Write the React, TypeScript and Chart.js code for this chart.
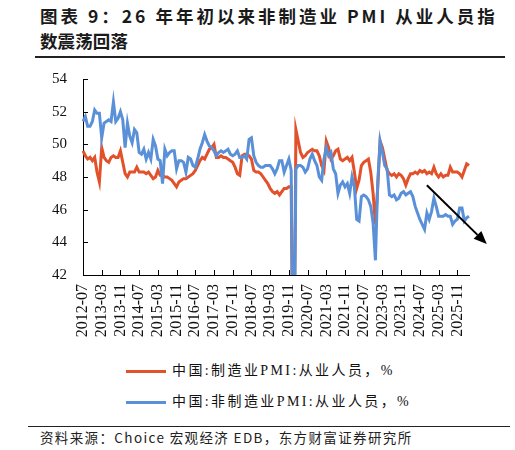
import React, { useEffect, useRef } from "react";
import { Chart, registerables } from "chart.js";

Chart.register(...registerables);

// ---- categories (monthly, 2012-07 .. 2026-04) ----
const firstYear = 2012;
const firstMonth = 7;
const monthCount = 166;
const months: string[] = [];
for (let k = 0; k < monthCount; k++) {
  const m0 = firstMonth - 1 + k;
  const y = firstYear + Math.floor(m0 / 12);
  const m = (m0 % 12) + 1;
  months.push(`${y}-${m < 10 ? "0" + m : m}`);
}
const tickEvery = 8;

// ---- y axis ----
const yMin = 42;
const yMax = 54;
const yStep = 2;

// ---- series ----
const seriesNames = ["中国:制造业PMI:从业人员，%", "中国:非制造业PMI:从业人员，%"];

const mfgEmployment = [
  49.6, 49.3, 49.1, 49.2, 49.0, 49.2, 48.3, 47.7, 49.8, 49.2,
  49.0, 48.9, 49.2, 49.3, 49.2, 49.2, 49.6, 48.9, 48.2, 48.0,
  48.3, 48.3, 48.3, 48.6, 48.3, 48.3, 48.3, 48.2, 48.3, 48.1,
  47.9, 48.0, 48.4, 48.1, 48.1, 48.0, 48.0, 47.9, 47.8, 47.6,
  47.4, 47.7, 47.8, 47.9, 47.9, 48.0, 48.1, 48.2, 48.4, 48.7,
  49.0, 49.2, 49.1, 49.4, 49.7, 49.8, 50.0, 49.2, 49.2, 49.3,
  49.2, 49.2, 49.1, 49.0, 48.9, 48.6, 48.2, 48.1, 49.3, 49.4,
  49.4, 49.3, 49.1, 48.4, 48.3, 48.3, 48.2, 48.0, 47.8, 47.6,
  47.3, 47.1, 47.0, 47.1, 46.9, 47.1, 47.3, 47.3, 47.4, 47.4,
  31.8, 50.9, 50.2, 49.5, 49.2, 49.3, 49.5, 49.6, 49.7, 49.6,
  49.6, 49.3, 48.7, 48.4, 50.2, 49.8, 49.1, 49.3, 49.6, 49.7,
  49.1, 49.0, 49.1, 49.2, 49.0, 49.2, 48.3, 47.3, 47.8, 48.7,
  48.9, 49.0, 49.1, 48.3, 47.0, 45.1, 47.4, 50.2, 49.8, 49.1,
  48.4, 48.2, 48.1, 48.2, 48.0, 48.2, 48.1, 47.9, 47.5, 47.9,
  48.2, 48.2, 48.3, 48.2, 48.4, 48.3, 48.4, 48.2, 48.3, 48.2,
  48.6, 48.2, 48.0, 48.2, 48.0, 48.1, 48.1, 48.6, 48.3, 48.3,
  48.3, 48.2, 48.0, 48.4, 48.8, 48.7,
];

const nonMfgEmployment = [
  51.4, 51.7, 51.1, 51.1, 51.4, 52.1, 51.9, 51.9, 50.4, 51.3,
  51.4, 51.5, 51.4, 52.6, 51.4, 51.6, 52.0, 51.5, 49.8, 51.3,
  50.5, 50.1, 50.9, 50.7, 49.5, 49.4, 49.7, 49.1, 49.5, 49.1,
  50.3, 49.9, 49.1, 49.0, 47.6, 49.7, 49.3, 49.5, 49.6, 49.6,
  48.5, 49.0, 49.0, 48.9, 48.3, 49.2, 49.1, 48.7, 48.6, 49.1,
  49.7, 50.1, 50.6, 50.2, 49.9, 49.8, 49.6, 49.3, 49.5, 49.6,
  49.5, 49.6, 49.7, 49.4, 49.3, 49.4, 49.6, 49.2, 49.2, 49.3,
  49.1, 50.3, 50.4, 49.3, 48.9, 48.7, 48.6, 48.6, 48.7, 48.7,
  48.7, 48.5, 48.2, 48.5, 49.0, 49.0, 48.3, 48.7, 49.1, 48.4,
  32.1, 48.5, 48.7, 48.7, 48.6, 48.3, 48.5, 49.1, 49.4, 49.0,
  48.7, 48.0, 47.8, 49.1, 49.8, 49.3, 49.5, 48.5, 48.2, 47.0,
  47.5, 47.7, 47.4, 47.6, 47.0, 48.0, 47.4, 45.4, 45.3, 46.8,
  46.9, 46.8, 46.6, 46.2, 45.2, 42.9, 47.7, 50.2, 49.5, 48.7,
  48.5, 46.9, 46.8, 46.9, 46.6, 46.7, 47.0, 47.1, 46.9, 47.0,
  47.1, 46.8, 46.2, 45.8, 45.4, 45.1, 44.8, 45.8, 45.4, 45.9,
  46.7, 46.2, 45.6, 45.6, 45.6, 45.7, 45.6, 45.6, 45.1, 45.3,
  45.4, 46.1, 46.1, 45.3, 45.5, 45.6,
];

// trend arrow annotation in data space: [month index, value]
const arrowFrom = [147, 47.5];
const arrowTo = [172.6, 43.9];

const ORANGE = "#E2512A";
const BLUE = "#5A90D8";

const innerTicks = {
  id: "innerTicks",
  afterDraw(chart: any) {
    const { ctx, chartArea } = chart;
    const xs = chart.scales.x;
    const ys = chart.scales.y;
    ctx.save();
    ctx.strokeStyle = "#000";
    ctx.lineWidth = 1;
    ctx.beginPath();
    for (let i = 0; i < months.length; i += tickEvery) {
      const x = Math.round(xs.getPixelForValue(i)) + 0.5;
      ctx.moveTo(x, chartArea.bottom);
      ctx.lineTo(x, chartArea.bottom - 5);
    }
    for (let v = yMin; v <= yMax; v += yStep) {
      const y = Math.round(ys.getPixelForValue(v)) + 0.5;
      ctx.moveTo(chartArea.left, y);
      ctx.lineTo(chartArea.left + 5, y);
    }
    ctx.stroke();
    ctx.restore();
  },
};

const trendArrow = {
  id: "trendArrow",
  afterDraw(chart: any) {
    const { ctx } = chart;
    const xs = chart.scales.x;
    const ys = chart.scales.y;
    const x0 = xs.getPixelForValue(arrowFrom[0]);
    const y0 = ys.getPixelForValue(arrowFrom[1]);
    const x1 = xs.getPixelForValue(arrowTo[0]);
    const y1 = ys.getPixelForValue(arrowTo[1]);
    const ang = Math.atan2(y1 - y0, x1 - x0);
    const headLen = 13;
    const headHalf = 5.5;
    const bx = x1 - headLen * Math.cos(ang);
    const by = y1 - headLen * Math.sin(ang);
    ctx.save();
    ctx.strokeStyle = "#000";
    ctx.fillStyle = "#000";
    ctx.lineWidth = 2;
    ctx.beginPath();
    ctx.moveTo(x0, y0);
    ctx.lineTo(bx, by);
    ctx.stroke();
    ctx.beginPath();
    ctx.moveTo(x1, y1);
    ctx.lineTo(bx + headHalf * Math.sin(ang), by - headHalf * Math.cos(ang));
    ctx.lineTo(bx - headHalf * Math.sin(ang), by + headHalf * Math.cos(ang));
    ctx.closePath();
    ctx.fill();
    ctx.restore();
  },
};

export default function App() {
  const canvasRef = useRef<HTMLCanvasElement | null>(null);

  useEffect(() => {
    if (!canvasRef.current) return;
    const chart = new Chart(canvasRef.current, {
      type: "line",
      data: {
        labels: months,
        datasets: [
          {
            label: seriesNames[0],
            data: mfgEmployment,
            borderColor: ORANGE,
            backgroundColor: ORANGE,
            borderWidth: 3,
            pointRadius: 0,
            tension: 0,
            order: 2,
          },
          {
            label: seriesNames[1],
            data: nonMfgEmployment,
            borderColor: BLUE,
            backgroundColor: BLUE,
            borderWidth: 3,
            pointRadius: 0,
            tension: 0,
            order: 1,
          },
        ],
      },
      options: {
        animation: false,
        responsive: false,
        devicePixelRatio: 1,
        layout: { padding: { left: 0, top: 79, right: 46, bottom: 0 } },
        plugins: {
          legend: { display: false },
          title: { display: false },
          tooltip: { enabled: false },
        },
        scales: {
          x: {
            type: "category",
            offset: false,
            grid: { display: false, drawTicks: false },
            border: { display: true, color: "#000", width: 1 },
            ticks: {
              autoSkip: false,
              maxRotation: 90,
              minRotation: 90,
              padding: 9,
              color: "#111",
              font: { family: "'Liberation Serif', 'Times New Roman', serif", size: 16 },
              callback: (_v: any, i: number) => (i % tickEvery === 0 ? months[i] : null),
            },
            afterFit: (s: any) => {
              s.height = 75;
            },
          },
          y: {
            min: yMin,
            max: yMax,
            grid: { display: false, drawTicks: false },
            border: { display: true, color: "#000", width: 1 },
            ticks: {
              stepSize: yStep,
              padding: 16,
              color: "#111",
              font: { family: "'Liberation Serif', 'Times New Roman', serif", size: 15 },
            },
            afterFit: (s: any) => {
              s.width = 83;
            },
          },
        },
      },
      plugins: [innerTicks, trendArrow],
    });
    return () => chart.destroy();
  }, []);

  const legendText: React.CSSProperties = {
    fontFamily: "'Liberation Serif', 'Noto Sans CJK SC', serif",
    fontSize: 14,
    letterSpacing: "2.4px",
    color: "#111",
    whiteSpace: "nowrap",
    lineHeight: "18px",
  };

  const legendRow = (top: number, color: string, text: string) => (
    <div style={{ position: "absolute", left: 126, top, height: 18, display: "flex", alignItems: "center" }}>
      <span style={{ display: "inline-block", width: 40, height: 3, background: color, marginRight: 6 }} />
      <span style={legendText}>{text}</span>
    </div>
  );

  return (
    <div style={{ position: "absolute", left: 0, top: 0, width: 515, height: 450, background: "#fff", overflow: "hidden" }}>
      <div
        style={{
          position: "absolute",
          left: 40,
          top: 4,
          fontFamily: "'Noto Sans CJK SC', 'Noto Sans', sans-serif",
          fontWeight: 700,
          fontSize: 17.5,
          lineHeight: "24.5px",
          color: "#1a1a1a",
          whiteSpace: "nowrap",
        }}
      >
        <div style={{ letterSpacing: "3px" }}>图表 9：26 年年初以来非制造业 PMI 从业人员指</div>
        <div style={{ letterSpacing: "0.1px" }}>数震荡回落</div>
      </div>
      <div style={{ position: "absolute", left: 35, top: 56, width: 470, height: 2, background: "#222" }} />
      <canvas ref={canvasRef} width={515} height={350} style={{ position: "absolute", left: 0, top: 0 }} />
      {legendRow(362, ORANGE, seriesNames[0])}
      {legendRow(393, BLUE, seriesNames[1])}
      <div style={{ position: "absolute", left: 28, top: 425.5, width: 482, height: 1.3, background: "#222" }} />
      <div
        style={{
          position: "absolute",
          left: 40,
          top: 428,
          fontFamily: "'Noto Sans CJK SC', 'Noto Sans', sans-serif",
          fontSize: 13.5,
          letterSpacing: "1.37px",
          lineHeight: "18px",
          color: "#222",
          whiteSpace: "nowrap",
        }}
      >
        资料来源：Choice 宏观经济 EDB，东方财富证券研究所
      </div>
    </div>
  );
}
